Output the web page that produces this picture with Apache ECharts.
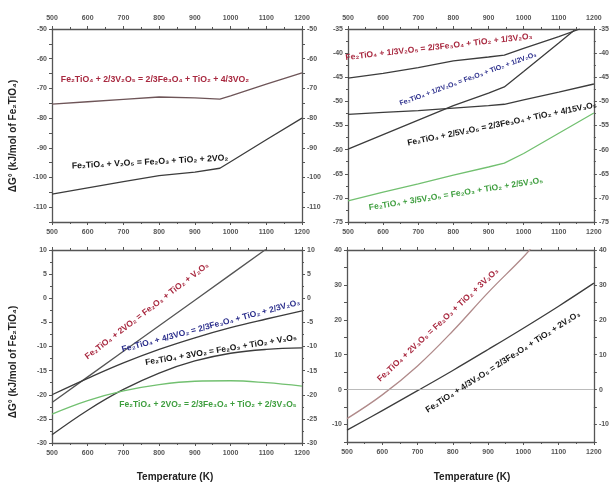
<!DOCTYPE html>
<html>
<head>
<meta charset="utf-8">
<script src="https://cdn.jsdelivr.net/npm/echarts@6/dist/echarts.min.js"></script>
<style>
  html, body { margin: 0; padding: 0; background: #ffffff; }
  #chart { width: 612px; height: 484px; }
</style>
</head>
<body>
<div id="chart"></div>
<script>
// ---- Temperature grids (K) ----
const T_V2O5_A = [500, 600, 700, 800, 900, 970, 1000, 1100, 1200];
const T_V2O5_B = [500, 600, 700, 800, 900, 945, 1000, 1100, 1200];
const T_STEP = [500, 600, 700, 800, 900, 1000, 1100, 1200];

// ---- Panel (a): V2O5 -> VO2 ----
const a1T = T_V2O5_A;
const a1G = [-75.3, -74.5, -73.7, -72.9, -73.2, -73.6, -72.5, -68.6, -64.8];
const a2T = T_V2O5_A;
const a2G = [-105.6, -103.5, -101.4, -99.4, -98.2, -96.9, -94.7, -87.3, -80.0];

// ---- Panel (b): V2O5 -> V2O3 / V3O5 ----
const b1T = [500, 600, 700, 800, 900, 945, 1000, 1100, 1160];
const b1G = [-45.2, -44.2, -43.0, -41.6, -40.8, -40.4, -39.0, -36.6, -35.0];
const b2T = [500, 600, 700, 800, 900, 945, 1000, 1100, 1145];
const b2G = [-59.9, -56.9, -53.9, -50.9, -48.3, -47.0, -43.8, -37.9, -35.2];
const b3T = T_V2O5_B;
const b3G = [-52.7, -52.3, -51.9, -51.4, -50.9, -50.6, -49.7, -48.1, -46.4];
const b4T = T_V2O5_B;
const b4G = [-70.6, -68.8, -67.1, -65.3, -63.6, -62.8, -60.8, -56.6, -52.4];

// ---- Panel (c): VO2 ----
const c1T = [500, 600, 700, 800, 900, 1000, 1100];
const c1G = [-21.6, -16.3, -11.0, -5.7, -0.4, 4.9, 10.2];
const c2T = T_STEP;
const c2G = [-20.0, -16.6, -13.4, -10.6, -8.2, -6.1, -4.3, -2.6];
const c3T = T_STEP;
const c3G = [-28.3, -23.2, -18.9, -15.5, -13.0, -11.4, -10.6, -10.3];
const c4T = T_STEP;
const c4G = [-24.0, -21.2, -19.2, -17.9, -17.2, -17.1, -17.5, -18.2];

// ---- Panel (d): V3O5 ----
const d1T = [500, 600, 700, 800, 900, 1000, 1030];
const d1G = [-8.3, -1.5, 6.8, 16.8, 27.8, 38.0, 41.5];
const d2T = T_STEP;
const d2G = [-11.6, -6.0, -0.3, 5.5, 11.5, 17.6, 23.9, 30.5];

// ---- Reaction labels ----
const LBL_A1 = 'Fe₂TiO₄ + 2/3V₂O₅ = 2/3Fe₃O₄ + TiO₂ + 4/3VO₂';
const LBL_A2 = 'Fe₂TiO₄ + V₂O₅ = Fe₂O₃ + TiO₂ + 2VO₂';
const LBL_B1 = 'Fe₂TiO₄ + 1/3V₂O₅ = 2/3Fe₃O₄ + TiO₂ + 1/3V₂O₃';
const LBL_B2 = 'Fe₂TiO₄ + 1/2V₂O₅ = Fe₂O₃ + TiO₂ + 1/2V₂O₃';
const LBL_B3 = 'Fe₂TiO₄ + 2/5V₂O₅ = 2/3Fe₃O₄ + TiO₂ + 4/15V₃O₅';
const LBL_B4 = 'Fe₂TiO₄ + 3/5V₂O₅ = Fe₂O₃ + TiO₂ + 2/5V₃O₅';
const LBL_C1 = 'Fe₂TiO₄ + 2VO₂ = Fe₂O₃ + TiO₂ + V₂O₃';
const LBL_C2 = 'Fe₂TiO₄ + 4/3VO₂ = 2/3Fe₃O₄ + TiO₂ + 2/3V₂O₃';
const LBL_C3 = 'Fe₂TiO₄ + 3VO₂ = Fe₂O₃ + TiO₂ + V₃O₅';
const LBL_C4 = 'Fe₂TiO₄ + 2VO₂ = 2/3Fe₃O₄ + TiO₂ + 2/3V₃O₅';
const LBL_D1 = 'Fe₂TiO₄ + 2V₃O₅ = Fe₂O₃ + TiO₂ + 3V₂O₃';
const LBL_D2 = 'Fe₂TiO₄ + 4/3V₃O₅ = 2/3Fe₃O₄ + TiO₂ + 2V₂O₃';
const Y_TITLE = 'ΔG° (kJ/mol of Fe₂TiO₄)';
const X_TITLE = 'Temperature (K)';

// ---- Styling ----
const FONT = '"Liberation Sans", Arial, sans-serif';
const AXIS_COLOR = '#555';
const LINE_DARK = '#3c3c3c';
const LINE_GREEN = '#72c070';
const LINE_BROWN = '#6e5558';
const LINE_PINK = '#b08a8a';
const TXT_RED = '#a8283f';
const TXT_BLUE = '#2b2e8c';
const TXT_BLACK = '#151515';
const TXT_GREEN = '#3e9e3e';

const grids = [
  { left: 52, top: 29, width: 250, height: 193 },
  { left: 348, top: 29, width: 249, height: 193 },
  { left: 52, top: 250, width: 250, height: 193 },
  { left: 347, top: 250, width: 250, height: 192 }
];

function pairs(T, G) { return T.map((t, i) => [t, G[i]]); }

function xAxes(gi, topLabels, bottomLabels) {
  const base = {
    type: 'value', gridIndex: gi, min: 500, max: 1200, interval: 100,
    splitLine: { show: false },
    axisLine: { show: true, onZero: false, lineStyle: { color: AXIS_COLOR, width: 1.3 } },
    axisTick: { show: true, length: 3, lineStyle: { color: AXIS_COLOR } },
    minorTick: { show: true, splitNumber: 2, length: 2, lineStyle: { color: AXIS_COLOR } },
    axisLabel: {
      fontSize: 7, color: '#555', fontWeight: 'bold', fontFamily: FONT, margin: 7,
      formatter: v => String(Math.round(v))
    }
  };
  return [
    Object.assign({}, base, { position: 'bottom', axisLabel: Object.assign({}, base.axisLabel, { show: bottomLabels }) }),
    Object.assign({}, base, { position: 'top', axisLabel: Object.assign({}, base.axisLabel, { show: topLabels }) })
  ];
}

function yAxes(gi, min, max, step, labelEvery, minor) {
  const base = {
    type: 'value', gridIndex: gi, min: min, max: max, interval: step,
    splitLine: { show: false },
    axisLine: { show: true, onZero: false, lineStyle: { color: AXIS_COLOR, width: 1.3 } },
    axisTick: { show: true, length: 3, lineStyle: { color: AXIS_COLOR } },
    minorTick: { show: minor, splitNumber: 2, length: 2, lineStyle: { color: AXIS_COLOR } },
    axisLabel: {
      fontSize: 7, color: '#555', fontWeight: 'bold', fontFamily: FONT, margin: 5,
      formatter: v => (Math.round(v) % labelEvery === 0 ? String(Math.round(v)) : '')
    }
  };
  return [
    Object.assign({}, base, { position: 'left' }),
    Object.assign({}, base, { position: 'right' })
  ];
}

const xAxis = [].concat(
  xAxes(0, true, true), xAxes(1, true, true),
  xAxes(2, false, true), xAxes(3, false, true)
);
const yAxis = [].concat(
  yAxes(0, -115, -50, 5, 10, false),
  yAxes(1, -75, -35, 5, 5, true),
  yAxes(2, -30, 10, 5, 5, true),
  yAxes(3, -15, 40, 5, 10, false)
);

function line(panel, T, G, color, extra) {
  return Object.assign({
    type: 'line',
    xAxisIndex: panel * 2,
    yAxisIndex: panel * 2,
    data: pairs(T, G),
    showSymbol: false,
    symbol: 'none',
    smooth: false,
    clip: true,
    lineStyle: { color: color, width: 1.3 },
    animation: false
  }, extra || {});
}

const series = [
  line(0, a1T, a1G, LINE_BROWN),
  line(0, a2T, a2G, LINE_DARK),
  line(1, b1T, b1G, LINE_DARK),
  line(1, b2T, b2G, LINE_DARK),
  line(1, b3T, b3G, LINE_DARK),
  line(1, b4T, b4G, LINE_GREEN),
  line(2, c1T, c1G, '#555'),
  line(2, c2T, c2G, LINE_DARK, { smooth: 0.4 }),
  line(2, c3T, c3G, LINE_DARK, { smooth: 0.4 }),
  line(2, c4T, c4G, LINE_GREEN, { smooth: 0.4 }),
  line(3, d1T, d1G, LINE_PINK, {
    smooth: 0.4,
    markLine: {
      silent: true, symbol: 'none', label: { show: false },
      lineStyle: { color: '#aaa', width: 0.8, type: 'solid' },
      data: [{ yAxis: 0 }]
    }
  }),
  line(3, d2T, d2G, LINE_DARK, { smooth: 0.4 })
];

function label(text, x, y, deg, color, size) {
  return {
    type: 'text', x: x, y: y, rotation: deg * Math.PI / 180, z: 100,
    style: {
      text: text, fill: color,
      font: 'bold ' + (size || 8.5) + 'px ' + FONT,
      align: 'center', verticalAlign: 'middle',
      textAlign: 'center', textVerticalAlign: 'middle'
    }
  };
}

const graphic = [
  label(LBL_A1, 155, 80, 0, TXT_RED, 8.7),
  label(LBL_A2, 150, 162, 3, TXT_BLACK, 8.7),
  label(LBL_B1, 439, 47, 6.5, TXT_RED),
  label(LBL_B2, 468, 79, 20, TXT_BLUE, 7),
  label(LBL_B3, 502, 124, 11.5, TXT_BLACK),
  label(LBL_B4, 456, 194, 9, TXT_GREEN),
  label(LBL_C1, 147, 311, 37.5, TXT_RED),
  label(LBL_C2, 211, 326, 15, TXT_BLUE),
  label(LBL_C3, 221, 350, 9.5, TXT_BLACK),
  label(LBL_C4, 208, 405, 0, TXT_GREEN),
  label(LBL_D1, 438, 325, 43, TXT_RED),
  label(LBL_D2, 503, 362, 32.5, TXT_BLACK),
  label(Y_TITLE, 13, 136, 90, '#222', 10),
  label(Y_TITLE, 13, 362, 90, '#222', 10),
  label(X_TITLE, 175, 477, 0, '#222', 10),
  label(X_TITLE, 472, 477, 0, '#222', 10)
];

const chart = echarts.init(document.getElementById('chart'), null, { renderer: 'canvas' });
chart.setOption({
  backgroundColor: '#ffffff',
  animation: false,
  grid: grids,
  xAxis: xAxis,
  yAxis: yAxis,
  series: series,
  graphic: graphic
});
</script>
</body>
</html>
